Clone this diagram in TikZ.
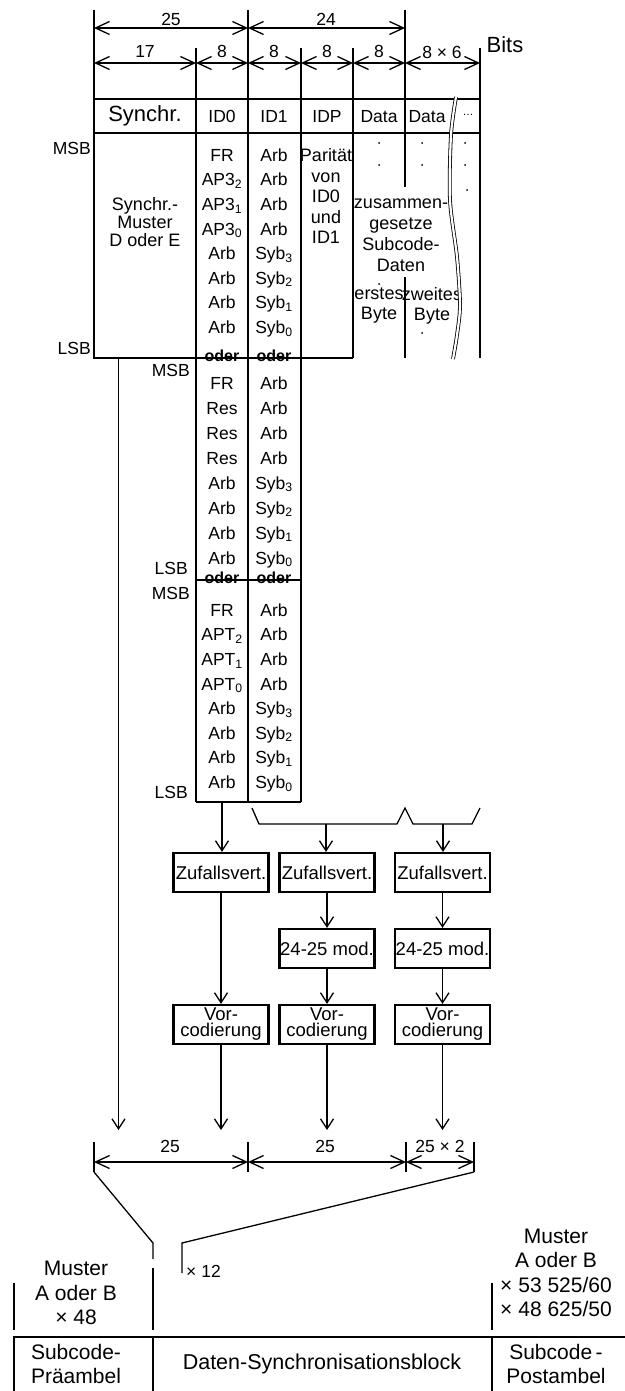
\documentclass[tikz,border=0pt]{standalone}
\usepackage{fontspec}
\setmainfont{Liberation Sans}
\usetikzlibrary{arrows.meta}
\newcommand{\fsz}[1]{\fontsize{#1}{#1}\selectfont}
\begin{document}
\begin{tikzpicture}[x=1pt,y=-1pt,
  ln/.style={line width=1.3pt},
  frame/.style={draw, line width=2.5pt},
  dimline/.style={ln, {Straight Barb[length=14pt,width=13pt]}-{Straight Barb[length=14pt,width=13pt]}},
  flow/.style={ln, -{Straight Barb[length=10pt,width=13pt]}},
  lbl/.style={inner sep=0pt, text height=12.5pt, text depth=0pt, font=\fsz{17.5}},
  cell/.style={inner sep=0pt, text height=12.5pt, text depth=0pt, font=\fsz{17.5}},
  head/.style={inner sep=0pt, text height=12.5pt, text depth=0pt, font=\fsz{17.5}},
  oder/.style={inner sep=0pt, text height=9pt, text depth=0pt, font=\bfseries\fsz{16}},
  para/.style={inner sep=0pt, align=center},
  procbox/.style={draw, line width=2.2pt, minimum width=95pt, minimum height=39pt, inner sep=0pt, align=center},
  dotmark/.style={radius=1pt},
]
\useasboundingbox (0,0) rectangle (624,1391);

% ---------- column borders of the frame header ----------
\foreach \n/\x in {0/94,1/196,2/248,3/301,4/353,5/405,6/480}{
  \coordinate (col\n) at (\x,99);
  \coordinate (cb\n) at (\x,133);
  \coordinate (d\n) at (\x,63);
}
\coordinate (u0) at (94,10);  \coordinate (D0) at (94,28);
\coordinate (u2) at (248,10); \coordinate (D2) at (248,28);
\coordinate (u5) at (405,10); \coordinate (D5) at (405,28);
\foreach \n/\x in {1/196,3/301,4/353,6/480}{ \coordinate (u\n) at (\x,48); }

% extension lines
\foreach \n in {0,1,2,3,4,5,6}{ \draw[ln] (u\n) -- (col\n); }

% bit-count dimensions
\draw[dimline] (D0) -- (D2);
\draw[dimline] (D2) -- (D5);
\foreach \a/\b in {0/1,1/2,2/3,3/4,4/5,5/6}{ \draw[dimline] (d\a) -- (d\b); }
\node[lbl] (n25) at (171,19) {25};
\node[lbl] (n24) at (326,19) {24};
\node[lbl] (n17) at (145,51) {17};
\node[lbl] (n8a) at (222,51) {8};
\node[lbl] (n8b) at (274,51) {8};
\node[lbl] (n8c) at (327,51) {8};
\node[lbl] (n8d) at (379,51) {8};
\node[lbl] (n86) at (442,52) {8 × 6};
\node[inner sep=0pt, font=\fsz{22}] (bits) at (505,45) {Bits};

% ---------- frame header row ----------
\draw[frame] (col0) rectangle (cb6);
\foreach \n in {1,2,3,4,5}{ \draw[line width=1.6pt] (col\n) -- (cb\n); }
\node[inner sep=0pt, font=\fsz{22}] (hsync) at (145,116) {Synchr.};
\node[head] (hid0) at (222,116) {ID0};
\node[head] (hid1) at (274,116) {ID1};
\node[head] (hidp) at (327,116) {IDP};
\node[head] (hd1) at (379,116) {Data};
\node[head] (hd2) at (427,116) {Data};
\node[inner sep=0pt, font=\fsz{11}] (hmore) at (468,115) {…};

% ---------- bit columns ----------
\coordinate (s0) at (94,358);
\coordinate (s4) at (353,358);
\coordinate (s6) at (480,358);
\draw[ln] (cb0) -- (s0) -- (s4);
\draw[ln] (cb4) -- (s4);
\draw[ln] (cb6) -- (s6);
\draw[ln] (cb5) -- (405,187);
\draw[ln] (405,277) -- (405,358);
\coordinate (k1) at (196,802);
\coordinate (k2) at (248,802);
\coordinate (k3) at (301,802);
\draw[ln] (cb1) -- (k1);
\draw[ln] (cb2) -- (k2);
\draw[ln] (cb3) -- (k3);

% bit labels of ID0 and ID1
\foreach \t [count=\i from 0] in {FR,AP3\textsubscript{2},AP3\textsubscript{1},AP3\textsubscript{0},Arb,Arb,Arb,Arb}
  { \node[cell] (pa\i) at (222,155+24.6*\i) {\t}; }
\foreach \t [count=\i from 0] in {FR,Res,Res,Res,Arb,Arb,Arb,Arb}
  { \node[cell] (pb\i) at (222,383+25*\i) {\t}; }
\foreach \t [count=\i from 0] in {FR,APT\textsubscript{2},APT\textsubscript{1},APT\textsubscript{0},Arb,Arb,Arb,Arb}
  { \node[cell] (pc\i) at (222,610+24.6*\i) {\t}; }
\foreach \t [count=\i from 0] in {Arb,Arb,Arb,Arb,Syb\textsubscript{3},Syb\textsubscript{2},Syb\textsubscript{1},Syb\textsubscript{0}}
  {
   \node[cell] (qa\i) at (274,155+24.6*\i) {\t};
   \node[cell] (qb\i) at (274,383+25*\i) {\t};
   \node[cell] (qc\i) at (274,610+24.6*\i) {\t};
  }

% alternatives
\node[oder] (o1) at (222,357) {oder};
\node[oder] (o2) at (274,357) {oder};
\node[oder] (o3) at (222,579) {oder};
\node[oder] (o4) at (274,579) {oder};
\coordinate (m1) at (196,580);
\coordinate (m3) at (301,580);
\draw[ln] (m1) -- (m3);
\draw[ln] (k1) -- (k3);

% MSB / LSB marks
\node[lbl, anchor=east] (msb1) at (91,148) {MSB};
\node[lbl, anchor=east] (lsb1) at (91,348) {LSB};
\node[lbl, anchor=east] (msb2) at (190,370) {MSB};
\node[lbl, anchor=east] (lsb2) at (188,568) {LSB};
\node[lbl, anchor=east] (msb3) at (190,593) {MSB};
\node[lbl, anchor=east] (lsb3) at (188,792) {LSB};

% synchronisation pattern, parity and subcode data
\node[para, font=\fsz{18}] (syncpat) at (145,222) {Synchr.-\\Muster\\D oder E};
\node[para, font=\fontsize{18}{20.5}\selectfont] (parity) at (326,196) {Parität\\von\\ID0\\und\\ID1};
\node[para, font=\fontsize{18}{21}\selectfont] (subdata) at (401,235) {zusammen-\\gesetze\\Subcode-\\Daten};
\node[para, font=\fontsize{18}{20}\selectfont] (byte1) at (379,306) {erstes\\Byte};
\node[para, font=\fontsize{18}{20}\selectfont] (byte2) at (432,306) {zweites\\Byte};
\foreach \x/\y in {379/143,379/165,422/143,422/165,465/143,465/165,467/190,379/284,422/333}
  { \fill[dotmark] (\x,\y) circle; }

% break of the data field
\draw[line width=0.8pt, double=white, double distance=2.2pt]
  plot[smooth] coordinates {(456,97) (451,135) (450,200) (457,257) (460,305) (457,335) (453,359)};

% ---------- processing chain ----------
\node[procbox, font=\fsz{18.5}] (z1) at (221,872.5) {Zufallsvert.};
\node[procbox, font=\fsz{18.5}] (z2) at (327,872.5) {Zufallsvert.};
\node[procbox, font=\fsz{18.5}] (z3) at (442.5,872.5) {Zufallsvert.};
\node[procbox, font=\fsz{18.5}] (r2) at (327,948.5) {24-25 mod.};
\node[procbox, font=\fsz{18.5}] (r3) at (442.5,948.5) {24-25 mod.};
\node[procbox, font=\fontsize{18.5}{16}\selectfont] (v1) at (221,1024.5) {Vor-\\codierung};
\node[procbox, font=\fontsize{18.5}{16}\selectfont] (v2) at (327,1024.5) {Vor-\\codierung};
\node[procbox, font=\fontsize{18.5}{16}\selectfont] (v3) at (442.5,1024.5) {Vor-\\codierung};

% brace over IDP and data bytes
\coordinate (bra) at (326,824);
\coordinate (brb) at (443,824);
\draw[ln] (252,808) -- (259,824) -- (397,824) -- (405,808) -- (413,824) -- (472,824) -- (480,808);

\coordinate (id0out) at (222,802);
\draw[flow] (id0out) -- (id0out |- z1.north);
\draw[flow] (bra) -- (bra |- z2.north);
\draw[flow] (brb) -- (brb |- z3.north);
\draw[flow] (z1.south) -- (v1.north);
\draw[flow] (z2.south) -- (r2.north);
\draw[flow] (z3.south) -- (r3.north);
\draw[flow] (r2.south) -- (v2.north);
\draw[flow] (r3.south) -- (v3.north);

\coordinate (lvl) at (0,1130);
\coordinate (sy0) at (118.5,358);
\draw[flow] (sy0) -- (sy0 |- lvl);
\draw[flow] (v1.south) -- (v1.south |- lvl);
\draw[flow] (v2.south) -- (v2.south |- lvl);
\draw[flow] (v3.south) -- (v3.south |- lvl);

% ---------- sync block dimensions ----------
\foreach \n/\x in {0/94,1/248,2/406,3/474}{
  \coordinate (bt\n) at (\x,1142);
  \coordinate (bd\n) at (\x,1162);
  \coordinate (bb\n) at (\x,1172);
  \draw[ln] (bt\n) -- (bb\n);
}
\draw[dimline] (bd0) -- (bd1);
\draw[dimline] (bd1) -- (bd2);
\draw[dimline] (bd2) -- (bd3);
\node[lbl] (b25a) at (170,1146) {25};
\node[lbl] (b25b) at (325,1146) {25};
\node[lbl] (b25c) at (440,1146) {25 × 2};

% expansion into the track
\coordinate (fl) at (153,1259);
\coordinate (fr) at (182,1273);
\draw[ln] (bb0) -- (153,1243) -- (fl);
\draw[ln] (bb3) -- (182,1243) -- (fr);
\node[lbl, anchor=west] (x12) at (186,1271) {× 12};

% ---------- track layout ----------
\coordinate (g0) at (14,1283);
\coordinate (g1) at (153,1268);
\coordinate (g2) at (492,1283);
\coordinate (h0) at (14,1330);
\coordinate (h1) at (153,1330);
\coordinate (h2) at (492,1330);
\draw[ln] (g0) -- (h0);
\draw[ln] (g1) -- (h1);
\draw[ln] (g2) -- (h2);
\node[para, font=\fontsize{21}{24.5}\selectfont] (pre) at (76,1293) {Muster\\A oder B\\× 48};
\node[para, font=\fontsize{21}{24.5}\selectfont] (post) at (556,1273) {Muster\\A oder B\\× 53 525/60\\× 48 625/50};

\draw[frame] (14,1337) rectangle (632,1398);
\draw[frame] (153,1337) -- (153,1398);
\draw[frame] (492,1337) -- (492,1398);
\node[para, font=\fontsize{21}{24}\selectfont] (preamble) at (76,1364) {Subcode-\\Präambel};
\node[inner sep=0pt, font=\fsz{21.5}] (dsb) at (322,1364) {Daten-Synchronisationsblock};
\node[para, font=\fontsize{21}{24}\selectfont] (postamble) at (556,1364) {Subcode\,-\\Postambel};
\end{tikzpicture}
\end{document}
